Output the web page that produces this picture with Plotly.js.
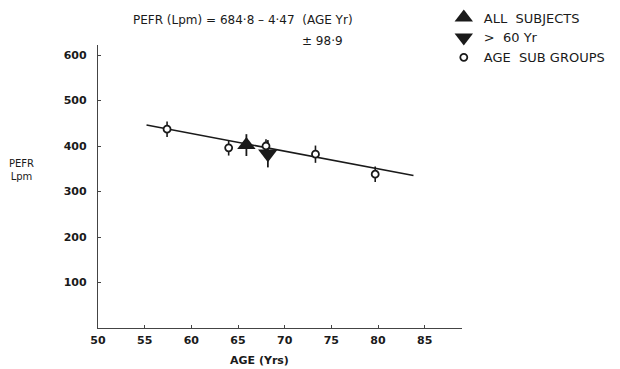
<!DOCTYPE html>
<html>
<head>
<meta charset="utf-8">
<script src="https://cdn.plot.ly/plotly-3.0.1.min.js"></script>
<style>html,body{margin:0;padding:0;background:#fff;}#chart{width:620px;height:369px;}</style>
</head>
<body>
<div id="chart"></div>
<script>
// Age sub-groups (open circles)
const subAge = [57.4, 64.0, 68.0, 73.3, 79.7];
const subPefr = [437, 396, 400, 382, 338];
const subErr = [17, 17, 15, 19, 17];

// All subjects (triangle up)
const allAge = [65.9];
const allPefr = [402];
const allErr = [24];

// > 60 Yr (triangle down)
const oldAge = [68.2];
const oldPefr = [383];
const oldErr = [30];

// Regression line as drawn
const lineAge = [55.2, 83.8];
const linePefr = [446, 335];

const xTicks = [50, 55, 60, 65, 70, 75, 80, 85];
const yTicks = [100, 200, 300, 400, 500, 600];

const ink = '#1a1a1a';
const fam = 'DejaVu Sans, sans-serif';
const font = {family: fam, size: 11, color: ink};
const boldFont = {family: fam, size: 11, color: ink, weight: 'bold'};

const traces = [
  {x: lineAge, y: linePefr, mode: 'lines', line: {color: ink, width: 1.6}, showlegend: false, hoverinfo: 'skip'},
  {x: allAge, y: allPefr, mode: 'markers', name: 'ALL  SUBJECTS',
   marker: {symbol: 'triangle-up', size: 16, color: ink},
   error_y: {type: 'data', array: allErr, visible: true, color: ink, thickness: 1.8, width: 0}},
  {x: oldAge, y: oldPefr, mode: 'markers', name: '&gt;  60 Yr',
   marker: {symbol: 'triangle-down', size: 17, color: ink},
   error_y: {type: 'data', array: oldErr, visible: true, color: ink, thickness: 1.8, width: 0}},
  {x: subAge, y: subPefr, mode: 'markers', name: 'AGE  SUB GROUPS',
   marker: {symbol: 'circle', size: 7, color: '#fff', line: {color: ink, width: 1.8}},
   error_y: {type: 'data', array: subErr, visible: true, color: ink, thickness: 1.6, width: 0}}
];

const layout = {
  width: 620, height: 369,
  margin: {l: 98, r: 158, t: 45, b: 41, autoexpand: false},
  paper_bgcolor: '#fff', plot_bgcolor: '#fff',
  font: font,
  showlegend: true,
  legend: {x: 0.95, y: 1.15, xanchor: 'left', yanchor: 'top', traceorder: 'normal',
           font: {family: fam, size: 13, color: ink}, bgcolor: 'rgba(0,0,0,0)'},
  xaxis: {range: [50, 89], tickvals: xTicks, ticktext: xTicks.map(String), showgrid: false, zeroline: false,
          showline: true, linecolor: '#444', linewidth: 1.2, ticks: 'inside', ticklen: 3, tickcolor: '#444',
          tickfont: boldFont, ticklabelstandoff: 2},
  yaxis: {range: [0, 622], tickvals: yTicks, ticktext: yTicks.map(String), showgrid: false, zeroline: false,
          showline: true, linecolor: '#444', linewidth: 1.2, ticks: 'inside', ticklen: 3, tickcolor: '#444',
          tickfont: boldFont, ticklabelstandoff: 8},
  annotations: [
    {text: 'PEFR (Lpm) = 684·8 – 4·47  (AGE Yr)', xref: 'paper', yref: 'paper', x: 0.09, y: 1.087,
     xanchor: 'left', yanchor: 'middle', showarrow: false, font: {family: fam, size: 12, color: ink}},
    {text: '± 98·9', xref: 'paper', yref: 'paper', x: 0.555, y: 1.015,
     xanchor: 'left', yanchor: 'middle', showarrow: false, font: {family: fam, size: 12, color: ink}},
    {text: 'PEFR<br>Lpm', xref: 'paper', yref: 'paper', x: -0.21, y: 0.56,
     xanchor: 'center', yanchor: 'middle', showarrow: false, font: {family: fam, size: 10, color: ink}},
    {text: 'AGE (Yrs)', xref: 'x', yref: 'paper', x: 67.3, y: -0.115,
     xanchor: 'center', yanchor: 'middle', showarrow: false, font: boldFont}
  ]
};

Plotly.newPlot('chart', traces, layout, {displayModeBar: false, staticPlot: true});
</script>
</body>
</html>
